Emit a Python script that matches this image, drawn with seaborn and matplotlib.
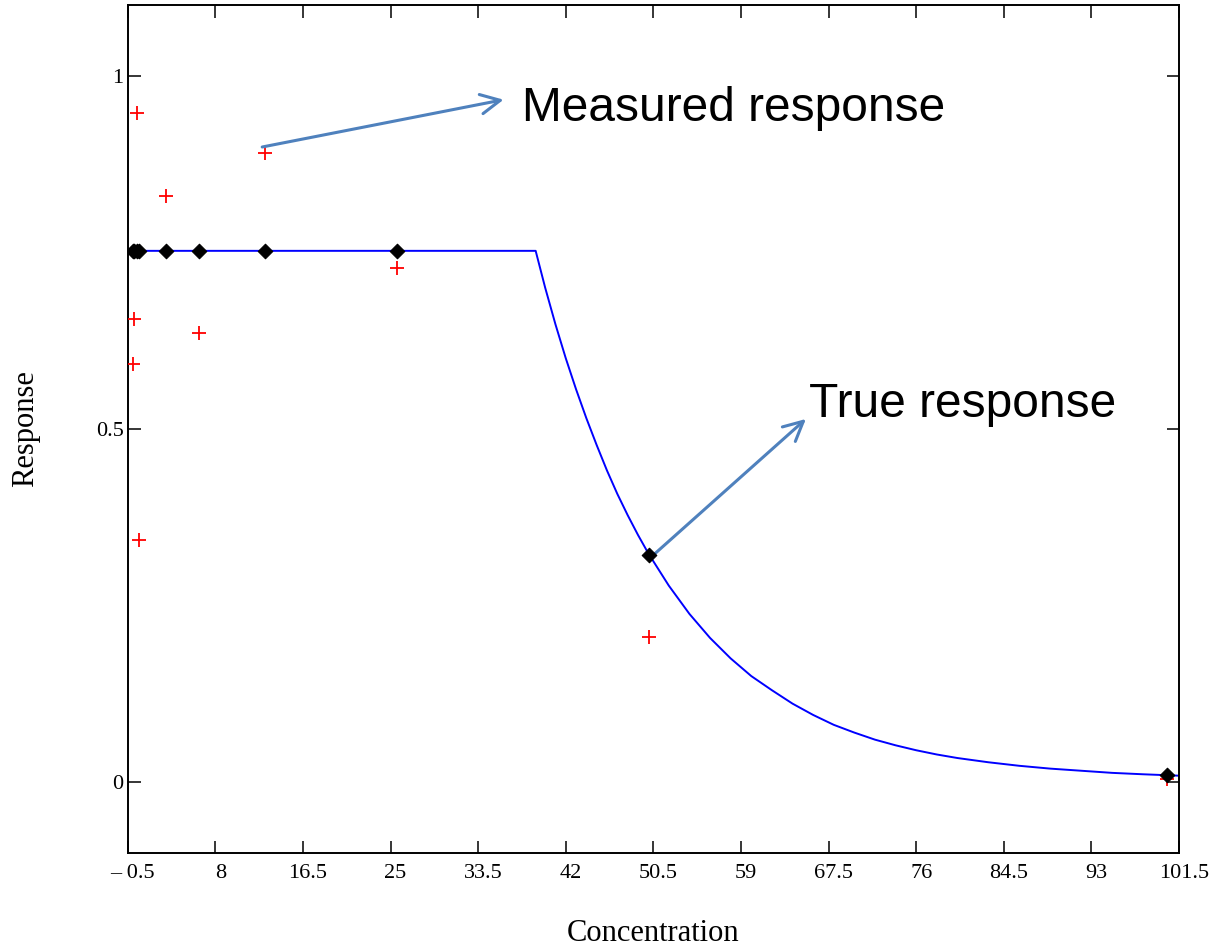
import matplotlib
matplotlib.use("Agg")
import matplotlib.pyplot as plt
from matplotlib.transforms import ScaledTranslation
import seaborn as sns
import pandas as pd

# ---- data ----
concentration = [0.04, 0.14, 0.37, 0.63, 3.2, 6.4, 12.8, 25.6, 50.1, 100.3]
measured = [0.592, 0.656, 0.947, 0.343, 0.829, 0.636, 0.891, 0.727, 0.205, 0.004]
true_resp = [0.752, 0.752, 0.752, 0.752, 0.752, 0.752, 0.752, 0.752, 0.321, 0.0095]

curve_x = [0.3, 39.08, 40, 41, 42, 43, 44, 45, 46, 47, 48, 49, 50, 52, 54, 56, 58,
           60, 62, 64, 66, 68, 70, 72, 74, 76, 78, 80, 83, 86, 89, 92, 95, 98, 101.5]
curve_y = [0.752, 0.752, 0.700, 0.648, 0.600, 0.556, 0.515, 0.477, 0.441, 0.408,
           0.378, 0.350, 0.324, 0.278, 0.238, 0.204, 0.175, 0.150, 0.130, 0.111,
           0.095, 0.081, 0.070, 0.060, 0.052, 0.045, 0.039, 0.034, 0.028, 0.023,
           0.019, 0.016, 0.013, 0.011, 0.009]

x_ticks = [-0.5, 8, 16.5, 25, 33.5, 42, 50.5, 59, 67.5, 76, 84.5, 93, 101.5]
x_tick_labels = ["\u2013 0.5", "8", "16.5", "25", "33.5", "42", "50.5", "59",
                 "67.5", "76", "84.5", "93", "101.5"]
y_ticks = [0, 0.5, 1]
y_tick_labels = ["0", "0.5", "1"]

points = pd.DataFrame({"Concentration": concentration, "Measured": measured,
                       "True": true_resp})
curve = pd.DataFrame({"Concentration": curve_x, "Response": curve_y})

# ---- style ----
sns.set_style("ticks")
plt.rcParams["font.family"] = ["Liberation Serif", "DejaVu Serif"]
plt.rcParams["text.color"] = "black"
plt.rcParams["axes.labelcolor"] = "black"

fig = plt.figure(figsize=(12.15, 9.47), dpi=100)
ax = fig.add_axes([0.1051, 0.0996, 0.8653, 0.8951])

sns.lineplot(data=curve, x="Concentration", y="Response", color="#0000ff",
             linewidth=1.4, ax=ax, zorder=2)
sns.scatterplot(data=points, x="Concentration", y="Measured", marker="+",
                color="#ff0000", s=90, linewidth=1.3, ax=ax, zorder=3)
sns.scatterplot(data=points, x="Concentration", y="True", marker="D",
                color="black", edgecolor="black", s=55, linewidth=0.8, ax=ax, zorder=4)

ax.set_xlim(-0.5, 101.5)
ax.set_ylim(-0.1, 1.1)
ax.set_xticks(x_ticks)
ax.set_xticklabels(x_tick_labels)
ax.set_yticks(y_ticks)
ax.set_yticklabels(y_tick_labels)

ax.tick_params(axis="both", direction="in", length=9, width=1.1, colors="black",
               labelsize=16, top=True, right=True)
ax.tick_params(axis="x", pad=8)
ax.tick_params(axis="y", pad=3)
for sp in ax.spines.values():
    sp.set_visible(True)
    sp.set_linewidth(1.4)
    sp.set_color("black")

offset = ScaledTranslation(5 / 100, 0, fig.dpi_scale_trans)
for lbl in ax.get_xticklabels():
    lbl.set_transform(lbl.get_transform() + offset)

ax.set_xlabel("Concentration", fontsize=22, labelpad=26)
ax.set_ylabel("Response", fontsize=22)
ax.yaxis.set_label_coords(-0.083, 0.5)

# ---- annotations ----
arrow_color = "#4f81bd"
ax.annotate("", xy=(35.97, 0.966), xytext=(12.55, 0.899),
            arrowprops=dict(arrowstyle="->,head_length=0.7,head_width=0.35",
                            color=arrow_color, lw=2.2, mutation_scale=20,
                            shrinkA=0, shrinkB=0))
ax.annotate("", xy=(65.3, 0.514), xytext=(50.47, 0.321),
            arrowprops=dict(arrowstyle="->,head_length=0.7,head_width=0.35",
                            color=arrow_color, lw=2.2, mutation_scale=20,
                            shrinkA=0, shrinkB=0))
ax.text(37.8, 0.936, "Measured response", fontsize=34.5, family="Liberation Sans",
        color="black", ha="left", va="baseline")
ax.text(65.6, 0.517, "True response", fontsize=34.5, family="Liberation Sans",
        color="black", ha="left", va="baseline")

fig.savefig("out.png", dpi=100)
